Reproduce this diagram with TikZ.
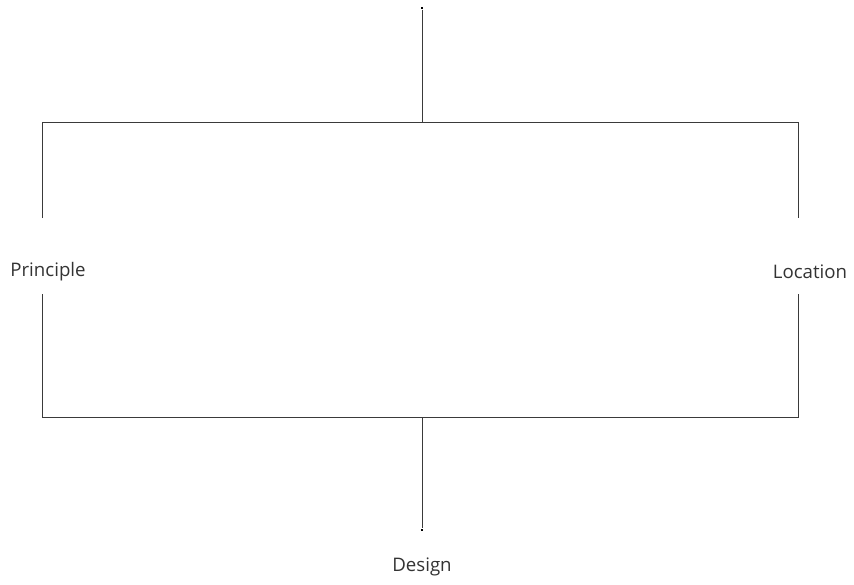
\documentclass[tikz,border=0pt]{standalone}
\usepackage{fontspec}
\setmainfont{Open Sans}
\usetikzlibrary{positioning}
\definecolor{LineGray}{HTML}{3A3A3A}
\definecolor{TextGray}{HTML}{333333}

\begin{document}
\begin{tikzpicture}[
x=0.75pt,y=-0.75pt,
conn/.style={draw=LineGray,line width=0.6pt},
lbl/.style={text=TextGray,font=\fontsize{14}{16}\selectfont,inner sep=1pt},
tipdot/.style={fill=black,inner sep=0pt,minimum size=2.2pt}
]
\useasboundingbox (0,0) rectangle (854,585);
% upper bracket
\node[tipdot] (top) at (422,8) {};
\coordinate (tjoin) at (422,122);
\coordinate (tl) at (42,122);
\coordinate (tr) at (798,122);
\coordinate (tlend) at (42,218);
\coordinate (trend) at (798,218);
% labels
\node[lbl] (principle) at (48,272) {Principle};
\node[lbl] (location) at (810,272) {Location};
\node[lbl] (design) at (422,567) {Design};
% lower bracket
\coordinate (blend) at (42,294);
\coordinate (brend) at (798,294);
\coordinate (bl) at (42,417);
\coordinate (br) at (798,417);
\coordinate (bjoin) at (422,417);
\node[tipdot] (bottom) at (422,530) {};
\draw[conn] (top) -- (tjoin);
\draw[conn] (tlend) -- (tl) -- (tr) -- (trend);
\draw[conn] (blend) -- (bl) -- (br) -- (brend);
\draw[conn] (bjoin) -- (bottom);
\end{tikzpicture}
\end{document}
